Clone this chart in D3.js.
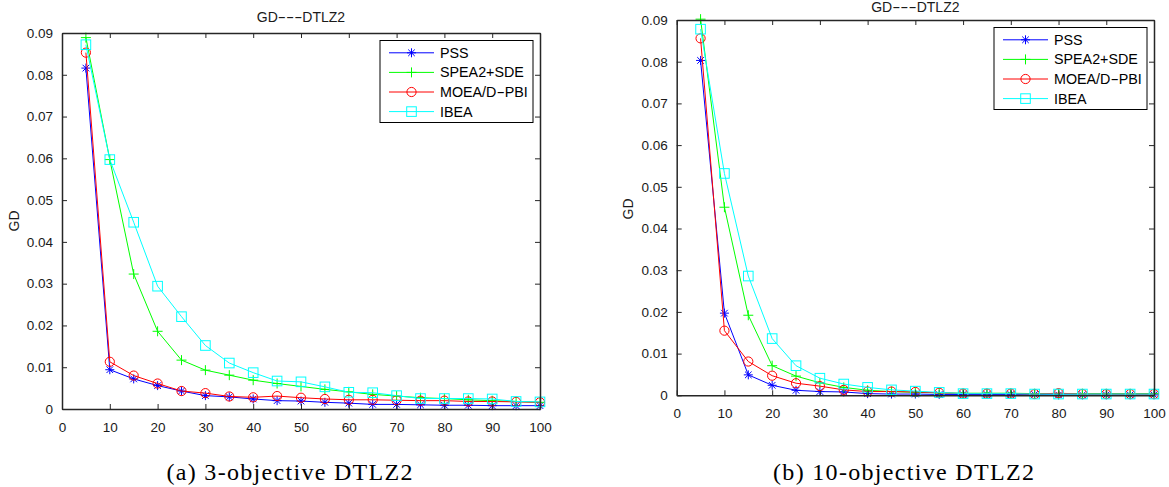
<!DOCTYPE html>
<html><head><meta charset="utf-8">
<script src="https://cdn.jsdelivr.net/npm/d3@7"></script>
<style>body{margin:0;background:#fff}svg{display:block}</style>
</head><body>
<svg id="c" width="1169" height="487"></svg>
<script>
const popSizes = [5,10,15,20,25,30,35,40,45,50,55,60,65,70,75,80,85,90,95,100];
const seriesNames = ["PSS","SPEA2+SDE","MOEA/D-PBI","IBEA"];
const seriesColors = ["#0000ff","#00ff00","#ff0000","#00ffff"];
const seriesMarkers = ["star","plus","circle","square"];
const xTicks = [0,10,20,30,40,50,60,70,80,90,100];
const yTicks = [0,0.01,0.02,0.03,0.04,0.05,0.06,0.07,0.08,0.09];
const chartTitle = "GD---DTLZ2";
const yLabel = "GD";
const captions = ["(a) 3-objective DTLZ2","(b) 10-objective DTLZ2"];

// (a) 3-objective
const a_PSS   = [0.0816,0.0094,0.0072,0.0056,0.0043,0.0032,0.0029,0.0024,0.0020,0.0019,0.0016,0.0014,0.0011,0.0011,0.0010,0.0009,0.0009,0.0008,0.0008,0.0008];
const a_SPEA2 = [0.0889,0.0597,0.0323,0.0186,0.0117,0.0093,0.0081,0.0069,0.0061,0.0054,0.0047,0.0041,0.0035,0.0031,0.0027,0.0025,0.0022,0.0020,0.0018,0.0016];
const a_MOEAD = [0.0853,0.0113,0.0080,0.0061,0.0043,0.0038,0.0030,0.0028,0.0031,0.0027,0.0024,0.0022,0.0022,0.0021,0.0020,0.0020,0.0018,0.0018,0.0017,0.0016];
const a_IBEA  = [0.0872,0.0597,0.0447,0.0294,0.0221,0.0152,0.0110,0.0087,0.0067,0.0065,0.0053,0.0040,0.0039,0.0032,0.0025,0.0025,0.0025,0.0024,0.0018,0.0017];
// (b) 10-objective
const b_PSS   = [0.0803,0.0197,0.0049,0.0024,0.0012,0.0009,0.0008,0.0004,0.0003,0.0003,0.0002,0.0002,0.0002,0.0002,0.0002,0.0001,0.0001,0.0001,0.0001,0.0001];
const b_SPEA2 = [0.0902,0.0451,0.0192,0.0071,0.0046,0.0030,0.0019,0.0012,0.0009,0.0007,0.0006,0.0005,0.0005,0.0005,0.0004,0.0004,0.0004,0.0004,0.0004,0.0004];
const b_MOEAD = [0.0856,0.0155,0.0081,0.0047,0.0029,0.0022,0.0013,0.0009,0.0009,0.0008,0.0006,0.0004,0.0004,0.0004,0.0003,0.0005,0.0003,0.0003,0.0003,0.0003];
const b_IBEA  = [0.0878,0.0532,0.0286,0.0136,0.0071,0.0041,0.0027,0.0019,0.0013,0.0010,0.0007,0.0004,0.0004,0.0004,0.0003,0.0003,0.0003,0.0003,0.0003,0.0003];

const panels = [
  {series:[a_PSS,a_SPEA2,a_MOEAD,a_IBEA], left:62, right:540, top:33, bottom:409, titleY:21.5, ylabX:19, ylabY:221, caption:captions[0], capX:289.5, capW:246},
  {series:[b_PSS,b_SPEA2,b_MOEAD,b_IBEA], left:676.7, right:1154, top:20, bottom:395.3, titleY:12, ylabX:633, ylabY:209, caption:captions[1], capX:903.5, capW:261}
];

const svg = d3.select("#c");
const SANS = "'Liberation Sans', Arial, Helvetica, sans-serif";
const AX = "#262626";

function marker(g, type, x, y, color){
  if(type==="star"){
    const s=4.5, d=3.3;
    g.append("path").attr("d",`M${x-s},${y}H${x+s}M${x},${y-s}V${y+s}M${x-d},${y-d}L${x+d},${y+d}M${x-d},${y+d}L${x+d},${y-d}`)
      .attr("stroke",color).attr("stroke-width",1).attr("fill","none");
  } else if(type==="plus"){
    const s=5;
    g.append("path").attr("d",`M${x-s},${y}H${x+s}M${x},${y-s}V${y+s}`)
      .attr("stroke",color).attr("stroke-width",1).attr("fill","none");
  } else if(type==="circle"){
    g.append("circle").attr("cx",x).attr("cy",y).attr("r",4.6)
      .attr("stroke",color).attr("stroke-width",1).attr("fill","none");
  } else {
    g.append("rect").attr("x",x-4.8).attr("y",y-4.8).attr("width",9.6).attr("height",9.6)
      .attr("stroke",color).attr("stroke-width",1).attr("fill","none");
  }
}

// write text with runs of hyphens stretched to MATLAB-like long dashes
function dashText(t, str, fs){
  str.split(/(-+)/).forEach(s=>{
    if(!s) return;
    const ts = t.append("tspan").text(s);
    if(/^-+$/.test(s)) ts.attr("textLength", (s.length*0.584*fs).toFixed(1)).attr("lengthAdjust","spacingAndGlyphs");
  });
}

panels.forEach(p=>{
  const x = d3.scaleLinear().domain([0,100]).range([p.left,p.right]);
  const y = d3.scaleLinear().domain([0,0.09]).range([p.bottom,p.top]);
  const g = svg.append("g");
  const tl = 5;

  // series
  p.series.forEach((vals,i)=>{
    const line = d3.line().x((d,j)=>x(popSizes[j])).y(d=>y(d));
    g.append("path").datum(vals).attr("d",line).attr("fill","none")
      .attr("stroke",seriesColors[i]).attr("stroke-width",1);
    const mg = g.append("g");
    vals.forEach((v,j)=>marker(mg, seriesMarkers[i], x(popSizes[j]), y(v), seriesColors[i]));
  });

  // axes (box with inward ticks)
  const axB = d3.axisBottom(x).tickValues(xTicks).tickSizeInner(-tl).tickSizeOuter(0).tickPadding(tl+8).tickFormat(d3.format("d"));
  const axT = d3.axisTop(x).tickValues(xTicks).tickSizeInner(-tl).tickSizeOuter(0).tickFormat("");
  const axL = d3.axisLeft(y).tickValues(yTicks).tickSizeInner(-tl).tickSizeOuter(0).tickPadding(tl+4).tickFormat(d=>d===0?"0":d3.format(".2f")(d));
  const axR = d3.axisRight(y).tickValues(yTicks).tickSizeInner(-tl).tickSizeOuter(0).tickFormat("");
  const style = sel=>{
    sel.selectAll("path.domain").attr("stroke",AX).attr("stroke-width",1.5);
    sel.selectAll(".tick line").attr("stroke",AX).attr("stroke-width",1);
    sel.selectAll(".tick text").attr("fill","#1a1a1a").style("font-family",SANS).style("font-size","13.5px");
  };
  g.append("g").attr("transform",`translate(0,${p.bottom})`).call(axB).call(style);
  g.append("g").attr("transform",`translate(0,${p.top})`).call(axT).call(style);
  g.append("g").attr("transform",`translate(${p.left},0)`).call(axL).call(style);
  g.append("g").attr("transform",`translate(${p.right},0)`).call(axR).call(style);

  // title
  const t = g.append("text").attr("x",(p.left+p.right)/2).attr("y",p.titleY).attr("text-anchor","middle")
    .style("font-family",SANS).style("font-size","14px").attr("fill","#1a1a1a");
  dashText(t, chartTitle, 14);

  // y label
  g.append("text").attr("transform",`translate(${p.ylabX},${p.ylabY}) rotate(-90)`).attr("text-anchor","middle")
    .style("font-family",SANS).style("font-size","14px").attr("fill","#1a1a1a").text(yLabel);

  // legend
  const bw=153, bh=82;
  const bx = p.right-7-bw, by = p.top+7.5;
  const lg = g.append("g");
  lg.append("rect").attr("x",bx).attr("y",by).attr("width",bw).attr("height",bh)
    .attr("fill","#fff").attr("stroke","#000").attr("stroke-width",1);
  seriesNames.forEach((n,i)=>{
    const yy = by+12.3+i*19.6;
    lg.append("line").attr("x1",bx+9).attr("x2",bx+54).attr("y1",yy).attr("y2",yy)
      .attr("stroke",seriesColors[i]).attr("stroke-width",1);
    marker(lg, seriesMarkers[i], bx+31.5, yy, seriesColors[i]);
    const tx = lg.append("text").attr("x",bx+60).attr("y",yy+5).style("font-family",SANS).style("font-size","14.3px")
      .attr("fill","#000");
    dashText(tx, n, 14.3);
  });

  // caption
  svg.append("text").attr("x",p.capX).attr("y",480).attr("text-anchor","middle")
    .style("font-family","'Liberation Serif','Times New Roman',serif").style("font-size","24px")
    .attr("fill","#000").attr("textLength",p.capW).attr("lengthAdjust","spacing").text(p.caption);
});
</script>
</body></html>
